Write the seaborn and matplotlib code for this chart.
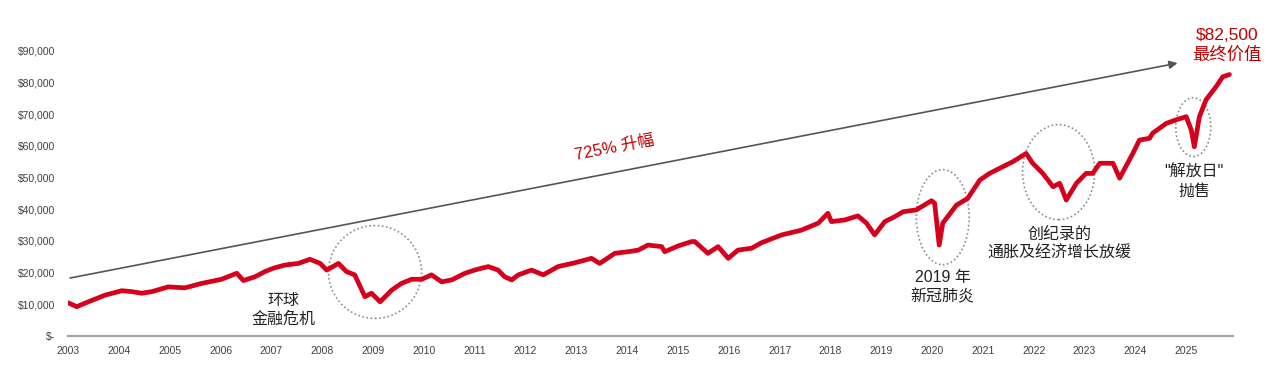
import matplotlib
matplotlib.use("Agg")
import matplotlib.pyplot as plt
from matplotlib.patches import Ellipse
import seaborn as sns
import pandas as pd

# growth of $10,000 (year as decimal)
years = [2003.00, 2003.17, 2003.40, 2003.73, 2004.06, 2004.25, 2004.45, 2004.65, 2004.97,
         2005.30, 2005.63, 2006.02, 2006.32, 2006.45, 2006.68, 2006.87, 2007.04, 2007.27,
         2007.53, 2007.76, 2007.96, 2008.09, 2008.32, 2008.48, 2008.64, 2008.78, 2008.84,
         2008.97, 2009.14, 2009.37, 2009.56, 2009.76, 2009.96, 2010.15, 2010.35, 2010.55,
         2010.81, 2011.00, 2011.14, 2011.27, 2011.46, 2011.59, 2011.73, 2011.86, 2012.12,
         2012.35, 2012.64, 2012.97, 2013.30, 2013.46, 2013.76, 2014.02, 2014.22, 2014.41,
         2014.68, 2014.74, 2015.00, 2015.27, 2015.33, 2015.59, 2015.79, 2015.99, 2016.18,
         2016.45, 2016.64, 2017.04, 2017.43, 2017.76, 2017.95, 2018.02, 2018.28, 2018.54,
         2018.71, 2018.87, 2019.07, 2019.26, 2019.43, 2019.69, 2019.99, 2020.05, 2020.14,
         2020.21, 2020.48, 2020.70, 2020.94, 2021.13, 2021.39, 2021.59, 2021.85, 2021.98,
         2022.18, 2022.38, 2022.51, 2022.64, 2022.84, 2023.03, 2023.16, 2023.30, 2023.56,
         2023.69, 2023.95, 2024.08, 2024.28, 2024.34, 2024.61, 2024.80, 2025.00, 2025.10,
         2025.16, 2025.26, 2025.39, 2025.59, 2025.72, 2025.85]
values = [10500, 9250, 10800, 12900, 14300, 14000, 13500, 14000, 15500,
          15200, 16600, 17900, 19800, 17500, 18700, 20300, 21400, 22400,
          22900, 24200, 22900, 20800, 22900, 20300, 19300, 14500, 12400,
          13500, 10800, 14500, 16600, 17900, 17900, 19300, 17100, 17700,
          19800, 20800, 21400, 21900, 20800, 18700, 17700, 19300, 20800,
          19300, 21900, 23100, 24500, 22900, 26100, 26600, 27100, 28700,
          28200, 26600, 28400, 29800, 29800, 26100, 28200, 24500, 27100,
          27700, 29400, 31900, 33400, 35600, 38700, 36100, 36600, 37900,
          35600, 31900, 36100, 37600, 39200, 39800, 42700, 41900, 28700,
          35600, 41300, 43400, 49200, 51300, 53400, 55000, 57600, 54500,
          51300, 47100, 48200, 42900, 48200, 51300, 51300, 54500, 54500,
          49800, 57600, 61800, 62400, 64000, 67100, 68200, 69200, 65000,
          59700, 69200, 74500, 78700, 81800, 82500]
year_ticks = list(range(2003, 2026))
value_ticks = list(range(0, 100000, 10000))

df = pd.DataFrame({"year": years, "value": values})

sns.set_style("white")
plt.rcParams["font.family"] = ["Liberation Sans", "Noto Sans CJK SC", "DejaVu Sans"]

fig = plt.figure(figsize=(12.72, 3.69), dpi=100)
ax = fig.add_axes([0.0535, 0.0894, 0.9158, 0.816])

red = "#d6001c"
sns.lineplot(data=df, x="year", y="value", color=red, linewidth=3.4, ax=ax)

ax.set_xlim(2003, 2025.92)
ax.set_ylim(0, 95000)
ax.set_xticks(year_ticks)
ax.set_xticklabels([str(y) for y in year_ticks])
ax.set_yticks(value_ticks)
ax.set_yticklabels(["$-" if v == 0 else f"${v:,}" for v in value_ticks])
ax.tick_params(axis="both", length=0, labelsize=7.5, colors="#404040")
ax.tick_params(axis="y", pad=9)
ax.tick_params(axis="x", pad=7)
ax.set_xlabel("")
ax.set_ylabel("")
for s in ["top", "right", "left"]:
    ax.spines[s].set_visible(False)
ax.spines["bottom"].set_color("#a6a6a6")
ax.spines["bottom"].set_linewidth(1.6)

# growth arrow
ax.annotate("", xy=(2024.83, 86100), xytext=(2003.04, 18300),
            arrowprops=dict(arrowstyle="-|>", color="#555555", lw=1.2,
                            mutation_scale=12, shrinkA=0, shrinkB=0),
            annotation_clip=False)
ax.text(2013.76, 59300, "725% 升幅", color="#c00000", fontsize=12,
        rotation=11, rotation_mode="anchor", ha="center", va="center")

# final value
ax.text(2025.81, 94900, "$82,500", color="#c00000", fontsize=12.5,
        ha="center", va="center", clip_on=False)
ax.text(2025.81, 88600, "最终价值", color="#c00000", fontsize=12.5,
        ha="center", va="center", clip_on=False)

# event circles
circles = [(2009.04, 20200, 1.83, 29300),
           (2020.21, 37500, 1.04, 30000),
           (2022.49, 51700, 1.42, 30000),
           (2025.14, 65900, 0.69, 18600)]
for cx, cy, w, h in circles:
    ax.add_patch(Ellipse((cx, cy), w, h, fill=False, edgecolor="#8c8c8c",
                         linestyle=(0, (1, 1.5)), linewidth=1.2))

notes = [(2007.23, 8200, "环球\n金融危机"),
         (2020.21, 15500, "2019 年\n新冠肺炎"),
         (2022.51, 29000, "创纪录的\n通胀及经济增长放缓"),
         (2025.16, 48600, "\"解放日\"\n抛售")]
for nx, ny, t in notes:
    ax.text(nx, ny, t, fontsize=11.5, color="#222222", ha="center", va="center",
            linespacing=1.3)

fig.savefig("out.png", dpi=100)
